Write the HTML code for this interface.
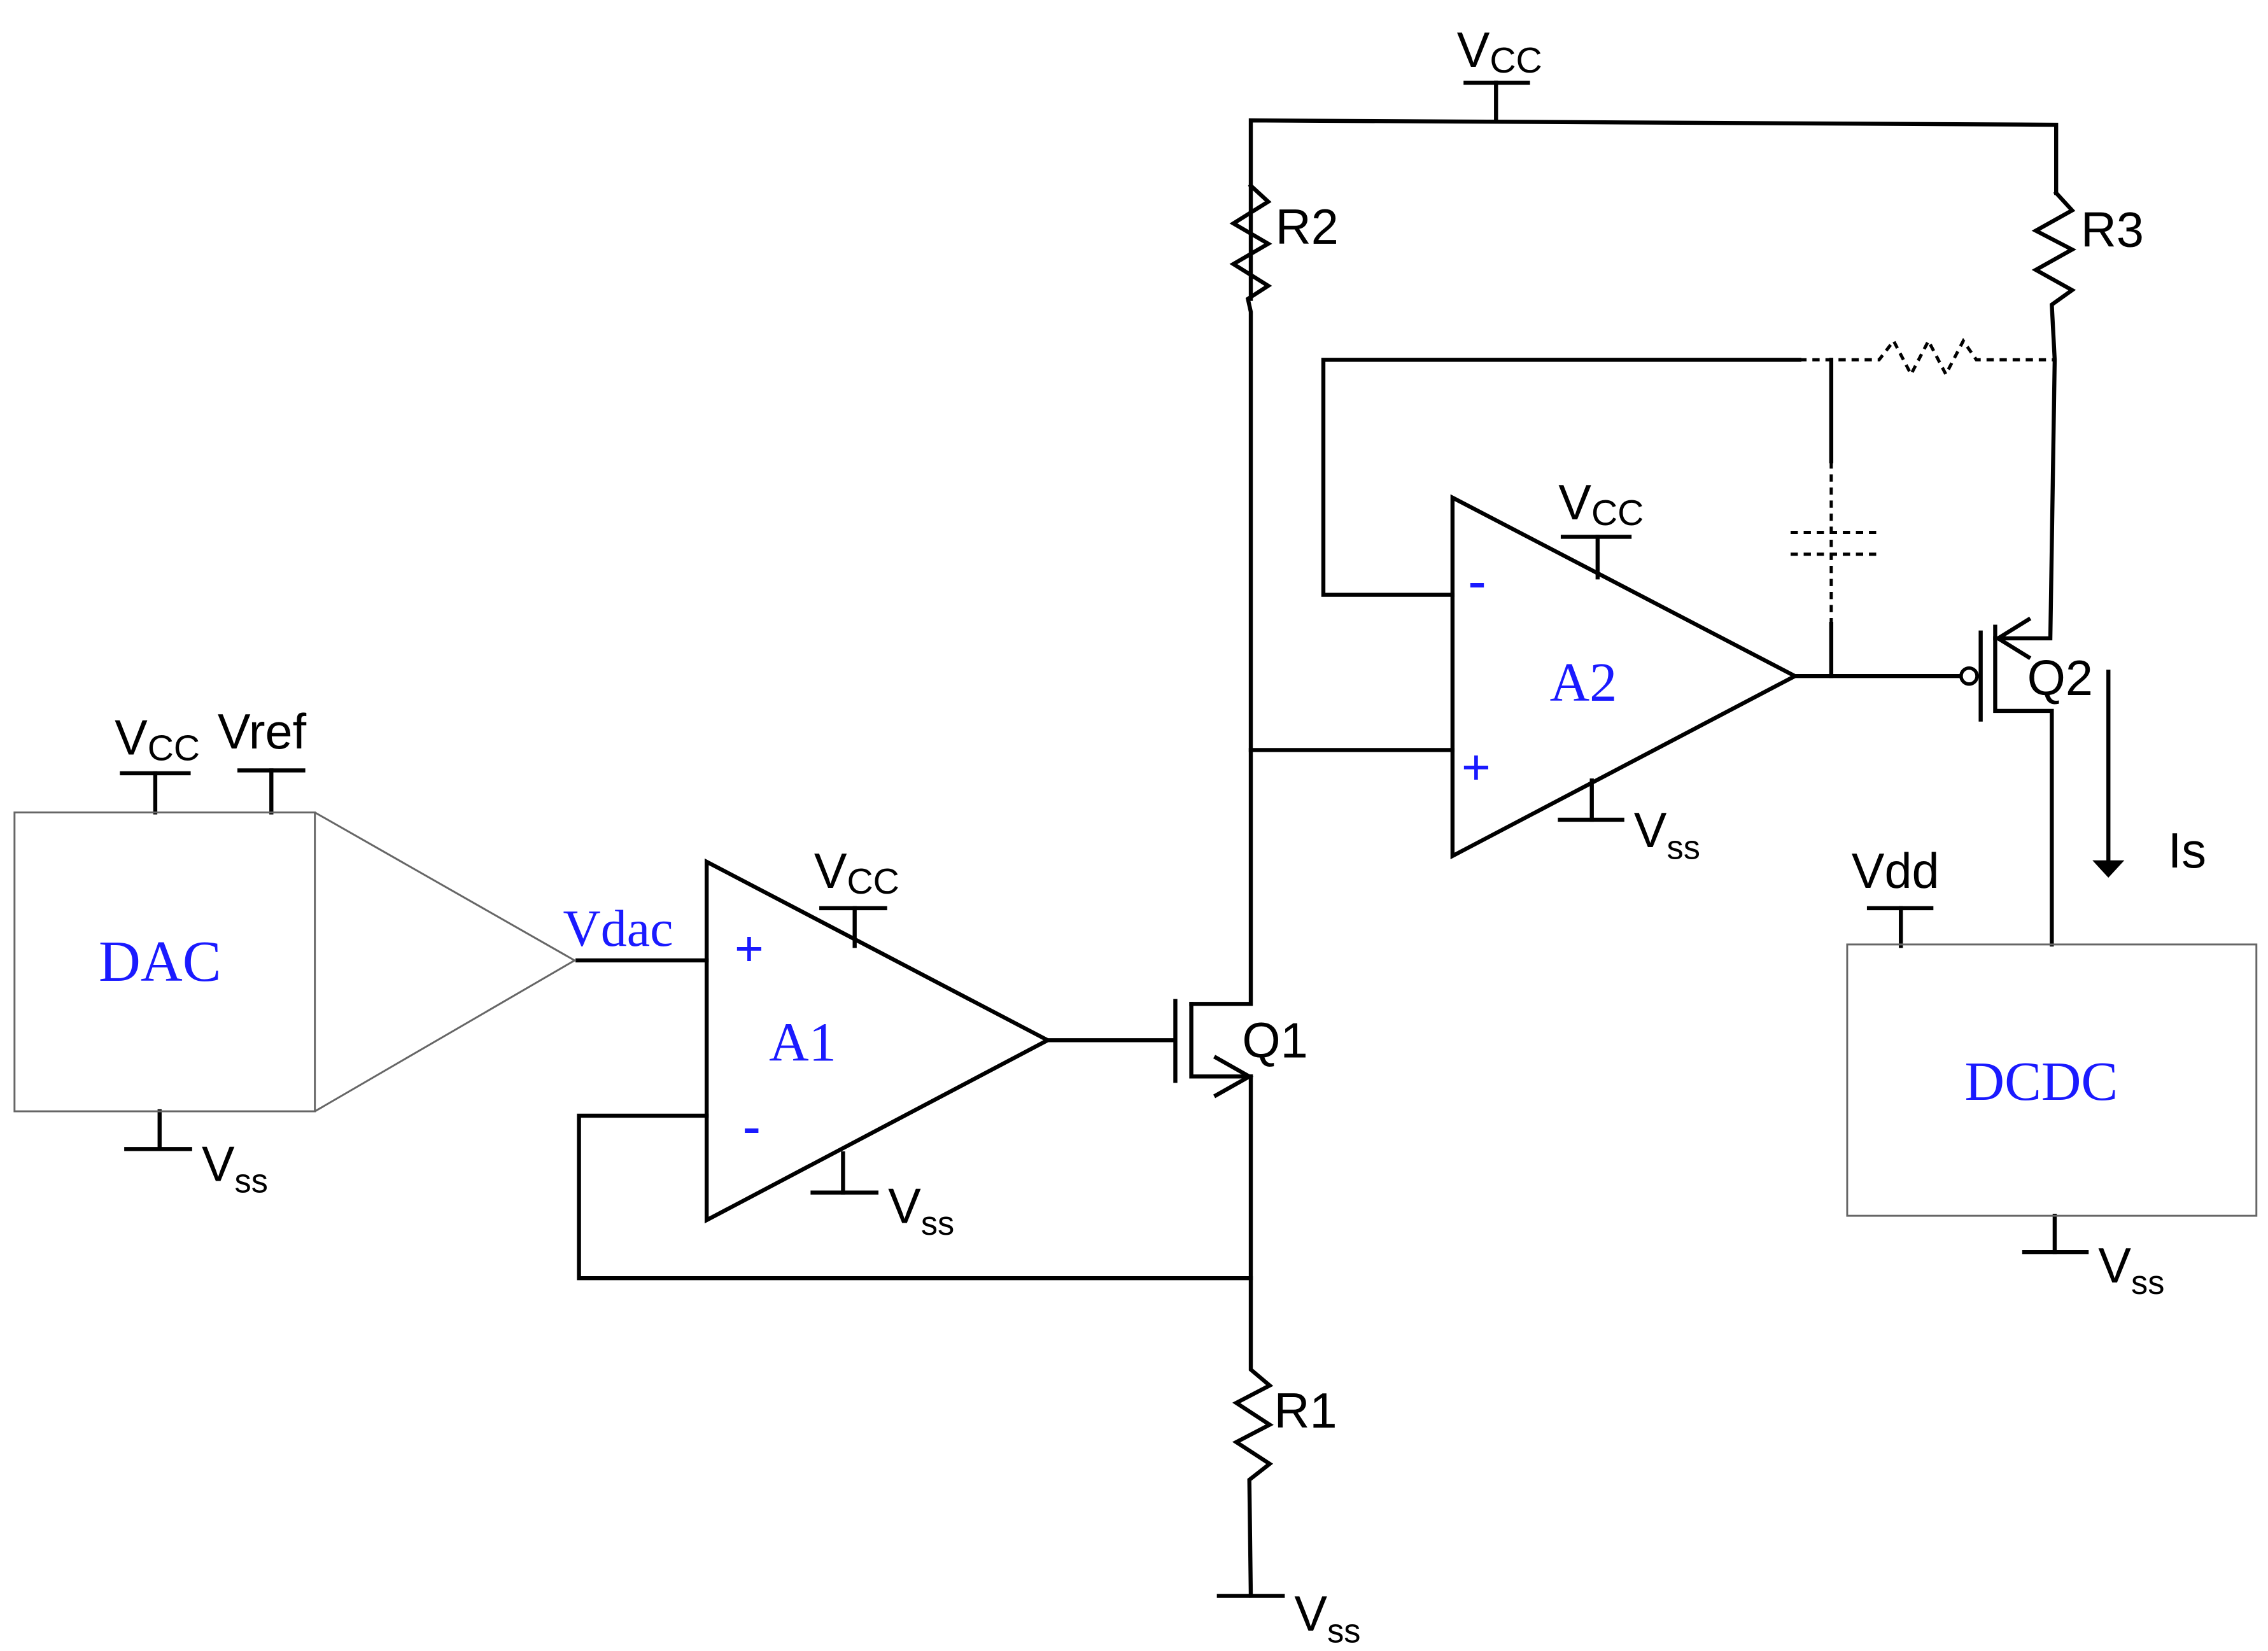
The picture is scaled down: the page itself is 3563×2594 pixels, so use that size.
<!DOCTYPE html>
<html><head><meta charset="utf-8">
<style>
html,body{margin:0;padding:0;background:#fff;}
svg{display:block;}
text{font-family:"Liberation Sans",sans-serif;fill:#000;}
.b{font-family:"Liberation Serif",serif;fill:#1a1aff;}
</style></head>
<body>
<svg width="3563" height="2594" viewBox="0 0 1563 1138" preserveAspectRatio="none" xmlns="http://www.w3.org/2000/svg">
<g stroke="#000" stroke-width="2.8" fill="none" stroke-linecap="square">
<polyline points="862,206 862,83 1417,86 1417,133"/>
<line x1="1031" y1="57" x2="1031" y2="83"/>
<line x1="1010" y1="57" x2="1053" y2="57"/>
<polyline points="862,128 874,139 850,154 874,168 850,182 874,197 860,206 862,215 862,692 821,692"/>
<polyline points="1417,133 1428,145 1403,159 1428,172 1403,186 1428,200 1414,210 1416,248 1413,440 1375,440"/>
<polyline points="1240,248 912,248 912,410 1001,410"/>
<line x1="1262" y1="248" x2="1262" y2="318"/>
<line x1="1262" y1="430" x2="1262" y2="466"/>
<polygon points="1001,343 1001,590 1237,466" stroke-linejoin="miter"/>
<line x1="1101" y1="370" x2="1101" y2="398"/>
<line x1="1077" y1="370" x2="1123" y2="370"/>
<line x1="1097" y1="538" x2="1097" y2="565"/>
<line x1="1075" y1="565" x2="1118" y2="565"/>
<line x1="862" y1="517" x2="1001" y2="517"/>
<line x1="1237" y1="466" x2="1351" y2="466"/>
<line x1="1365" y1="436" x2="1365" y2="496"/>
<polyline points="1375,432 1375,490 1414,490 1414,651"/>
<polyline points="1398,427 1377,440 1398,453"/>
<line x1="1453" y1="463" x2="1453" y2="594"/>
<line x1="1310" y1="626" x2="1310" y2="652"/>
<line x1="1288" y1="626" x2="1331" y2="626"/>
<line x1="1416" y1="838" x2="1416" y2="863"/>
<line x1="1395" y1="863" x2="1438" y2="863"/>
<line x1="107" y1="533" x2="107" y2="560"/>
<line x1="84" y1="533" x2="130" y2="533"/>
<line x1="187" y1="531" x2="187" y2="560"/>
<line x1="165" y1="531" x2="209" y2="531"/>
<line x1="110" y1="766" x2="110" y2="792"/>
<line x1="87" y1="792" x2="131" y2="792"/>
<line x1="398" y1="662" x2="487" y2="662"/>
<polygon points="487,594 487,841 722,717"/>
<line x1="589" y1="626" x2="589" y2="652"/>
<line x1="566" y1="626" x2="610" y2="626"/>
<line x1="581" y1="795" x2="581" y2="822"/>
<line x1="560" y1="822" x2="604" y2="822"/>
<line x1="722" y1="717" x2="808" y2="717"/>
<line x1="810" y1="690" x2="810" y2="745"/>
<polyline points="821,692 821,742 862,742"/>
<polyline points="838,729 861,742 838,755"/>
<polyline points="487,769 399,769 399,881 862,881"/>
<polyline points="862,742 862,944 875,955 852,967 875,982 852,994 875,1009 861,1020 862,1100"/>
<line x1="840" y1="1100" x2="884" y2="1100"/>
</g>
<g stroke="#000" stroke-width="2.2" fill="none" stroke-dasharray="5,4">
<polyline points="1240,248 1295,248 1305,235 1317,258 1329,235 1341,258 1353,235 1362,248 1415,248"/>
<line x1="1262" y1="318" x2="1262" y2="430"/>
<line x1="1234" y1="367" x2="1296" y2="367"/>
<line x1="1234" y1="382" x2="1296" y2="382"/>
</g>
<circle cx="1357" cy="466" r="5.5" fill="#fff" stroke="#000" stroke-width="2.4"/>
<polygon points="1442,593 1464,593 1453,605" fill="#000"/>
<g stroke="#666" stroke-width="1.3" fill="none">
<rect x="10" y="560" width="207" height="206"/>
<polyline points="217,560 396,662 217,766"/>
<rect x="1273" y="651" width="282" height="187"/>
</g>
<g font-size="34">
<text x="1004" y="46">V<tspan font-size="25" dy="4">CC</tspan></text>
<text x="1074" y="358">V<tspan font-size="25" dy="4">CC</tspan></text>
<text x="561" y="612">V<tspan font-size="25" dy="4">CC</tspan></text>
<text x="79" y="520">V<tspan font-size="25" dy="4">CC</tspan></text>
<text x="150" y="516">Vref</text>
<text x="1126" y="584">V<tspan font-size="23" dy="8">ss</tspan></text>
<text x="612" y="843">V<tspan font-size="23" dy="8">ss</tspan></text>
<text x="139" y="814">V<tspan font-size="23" dy="8">ss</tspan></text>
<text x="1446" y="884">V<tspan font-size="23" dy="8">ss</tspan></text>
<text x="892" y="1124">V<tspan font-size="23" dy="8">ss</tspan></text>
<text x="879" y="168">R2</text>
<text x="1434" y="170">R3</text>
<text x="878" y="984">R1</text>
<text x="856" y="729">Q1</text>
<text x="1397" y="479">Q2</text>
<text x="1276" y="612">Vdd</text>
<text x="1494" y="598">Is</text>
</g>
<g font-size="38" class="b">
<text class="b" x="1068" y="483">A2</text>
<text class="b" x="530" y="731">A1</text>
<text class="b" x="68" y="676" font-size="40">DAC</text>
<text class="b" x="1354" y="758">DCDC</text>
<text class="b" x="388" y="652" font-size="36">Vdac</text>
<text class="b" x="1012" y="412" font-size="36" font-weight="bold" font-family="Liberation Sans">-</text>
<text class="b" x="1007" y="541" font-size="36" font-weight="bold" font-family="Liberation Sans">+</text>
<text class="b" x="506" y="666" font-size="36" font-weight="bold" font-family="Liberation Sans">+</text>
<text class="b" x="512" y="788" font-size="36" font-weight="bold" font-family="Liberation Sans">-</text>
</g>
</svg>
</body></html>
